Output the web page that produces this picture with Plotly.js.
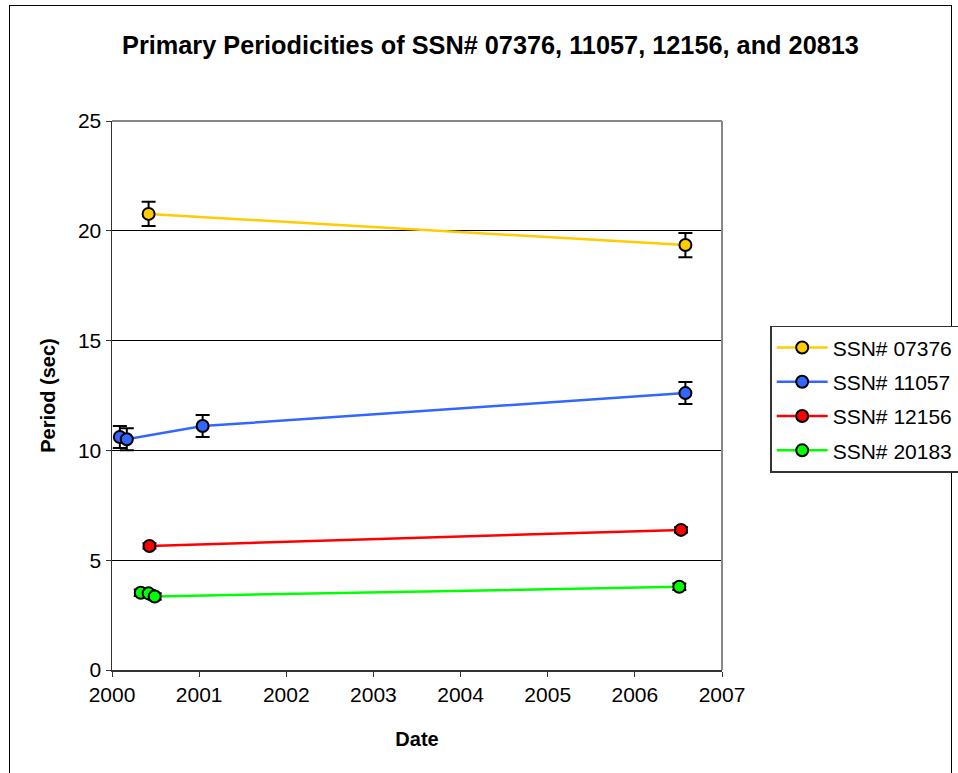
<!DOCTYPE html>
<html>
<head>
<meta charset="utf-8">
<script src="https://cdn.plot.ly/plotly-3.0.1.min.js"></script>
<style>
  html, body { margin: 0; padding: 0; background: #fff; }
  #wrap { position: relative; width: 958px; height: 773px; overflow: hidden; }
  #chart { position: relative; width: 958px; height: 773px; z-index: 1; }
  #frame { position: absolute; left: 9px; top: 5px; width: 943px; height: 780px;
           border: 1px solid #000; pointer-events: none; box-sizing: border-box; z-index: 0; }
</style>
</head>
<body>
<div id="wrap">
  <div id="frame"></div>
  <div id="chart"></div>
</div>
<script>
// Observation dates (decimal years), periods (sec) and their uncertainties
const names = ["SSN# 07376", "SSN# 11057", "SSN# 12156", "SSN# 20183"];
const colors = ["#FFCC00", "#3366FF", "#FF0000", "#00FF00"];

const dates07376 = [2000.42, 2006.58];
const period07376 = [20.77, 19.35];
const err07376 = [0.55, 0.55];

const dates11057 = [2000.09, 2000.17, 2001.04, 2006.58];
const period11057 = [10.61, 10.51, 11.11, 12.61];
const err11057 = [0.5, 0.5, 0.5, 0.5];

const dates12156 = [2000.43, 2006.53];
const period12156 = [5.65, 6.38];
const err12156 = [0.12, 0.12];

const dates20183 = [2000.33, 2000.42, 2000.49, 2006.51];
const period20183 = [3.52, 3.49, 3.35, 3.79];
const err20183 = [0.15, 0.15, 0.15, 0.15];

const xs = [dates07376, dates11057, dates12156, dates20183];
const ys = [period07376, period11057, period12156, period20183];
const errs = [err07376, err11057, err12156, err20183];

const traces = names.map((n, i) => ({
  type: "scatter",
  mode: "lines+markers",
  name: n,
  legendgroup: "g" + i,
  x: xs[i],
  y: ys[i],
  line: { color: colors[i], width: 2.5 },
  marker: { color: colors[i], size: 12, line: { color: "#000", width: 2 } },
  error_y: { type: "data", array: errs[i], visible: true, color: "#000", thickness: 2, width: 7 }
}));

const font = "Arial, 'Liberation Sans', sans-serif";

const layout = {
  width: 958,
  height: 773,
  margin: { l: 112, r: 236, t: 121, b: 103, autoexpand: false },
  paper_bgcolor: "rgba(0,0,0,0)",
  plot_bgcolor: "#fff",
  font: { family: font, color: "#000", size: 21 },
  title: {
    text: "<b>Primary Periodicities of SSN# 07376, 11057, 12156, and 20813</b>",
    font: { family: font, size: 25.3, color: "#000" },
    x: 0.512, xanchor: "center", y: 0.942, yanchor: "middle"
  },
  xaxis: {
    range: [2000, 2007],
    tick0: 2000, dtick: 1,
    tickformat: "d",
    showgrid: false, zeroline: false,
    showline: true, linecolor: "#333", linewidth: 1.5,
    ticks: "outside", ticklen: 5, tickcolor: "#333",
    tickfont: { size: 21 },
    title: { text: "<b>Date</b>", font: { size: 20 }, standoff: 27 }
  },
  yaxis: {
    range: [0, 25],
    tick0: 0, dtick: 5,
    showgrid: true, gridcolor: "#000", gridwidth: 1,
    zeroline: false,
    showline: true, linecolor: "#333", linewidth: 1.5,
    ticks: "outside", ticklen: 5, tickcolor: "#333",
    tickfont: { size: 21 },
    title: { text: "<b>Period (sec)</b>", font: { size: 20 }, standoff: 17 }
  },
  shapes: [
    { type: "line", xref: "paper", yref: "paper", x0: 0, x1: 1, y0: 1, y1: 1,
      line: { color: "#888", width: 2 } },
    { type: "line", xref: "paper", yref: "paper", x0: 1, x1: 1, y0: 0, y1: 1,
      line: { color: "#888", width: 2 } }
  ],
  legend: {
    x: 1.079, xanchor: "left", y: 0.627, yanchor: "top",
    bordercolor: "#333", borderwidth: 1.5, bgcolor: "#fff",
    font: { size: 21, family: font },
    tracegroupgap: 4,
    itemwidth: 51
  },
  showlegend: true
};

Plotly.newPlot("chart", traces, layout, { displayModeBar: false, staticPlot: true });
</script>
</body>
</html>
